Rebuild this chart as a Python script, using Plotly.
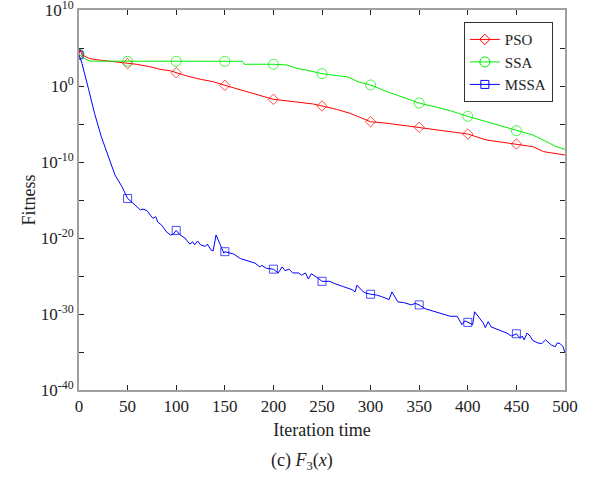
import plotly.graph_objects as go

# Iteration positions and log10(fitness)
pso_x = [0, 1, 3, 11, 22, 32, 39, 50, 59, 73, 83, 94, 100, 111, 125, 138, 150, 166, 186, 200,
         221, 241, 250, 265, 279, 289, 300, 317, 337, 350, 371, 389, 400, 419, 437, 450, 467, 478, 488, 500]
pso_log = [4.2, 4.9, 4.1, 3.6, 3.4, 3.25, 3.2, 2.95, 2.86, 2.54, 2.2, 2.0, 1.75, 1.32, 0.88, 0.57, 0.09, -0.53, -1.3, -1.75,
           -2.06, -2.37, -2.63, -3.07, -3.6, -4.15, -4.7, -4.9, -5.26, -5.43, -5.88, -6.14, -6.32, -7.1, -7.46, -7.63, -7.98, -8.64, -8.86, -9.08]

ssa_x = [0, 6, 11, 50, 100, 150, 168, 170, 200, 214, 224, 234, 250, 268, 276, 287, 300, 317, 330, 350,
         368, 382, 400, 419, 437, 450, 467, 481, 491, 500]
ssa_log = [4.17, 3.6, 3.27, 3.25, 3.25, 3.25, 3.25, 2.86, 2.86, 2.76, 2.33, 2.1, 1.62, 1.32, 1.22, 0.57, 0.13, -0.75, -1.32, -2.24,
           -2.8, -3.25, -3.99, -4.7, -5.35, -5.88, -6.45, -7.33, -7.98, -8.33]

mssa_x = [0, 3, 10, 16, 23, 30, 37, 44, 50, 58, 63, 66, 70, 74, 76, 79, 81, 85, 90, 94,
          97, 100, 104, 109, 114, 117, 119, 122, 125, 130, 132, 136, 138, 141, 145, 149, 150, 159, 166, 176,
          181, 186, 188, 193, 200, 205, 209, 212, 216, 220, 226, 229, 233, 236, 239, 245, 250, 258, 263, 272,
          281, 284, 286, 291, 294, 300, 306, 311, 316, 319, 322, 325, 328, 334, 339, 342, 346, 350, 356, 361,
          368, 375, 382, 389, 390, 394, 397, 400, 405, 407, 411, 416, 418, 421, 424, 430, 435, 440, 445, 450,
          454, 456, 458, 461, 464, 467, 472, 476, 480, 483, 486, 490, 492, 495, 498, 500]
mssa_log = [4.1, 3.0, -0.5, -3.6, -6.7, -9.3, -11.7, -13.2, -14.8, -15.7, -16.3, -16.2, -16.4, -17.1, -17.4, -17.2, -17.9, -18.3, -19.2, -19.6,
            -19.5, -19.0, -19.6, -20.0, -20.8, -20.5, -20.9, -20.4, -20.9, -21.1, -20.8, -21.6, -21.7, -19.6, -20.9, -22.0, -21.8, -22.1, -22.7, -23.1,
            -23.3, -23.8, -23.6, -24.0, -24.1, -24.6, -23.8, -24.3, -24.1, -24.6, -24.6, -24.9, -24.6, -25.4, -24.7, -25.2, -25.7, -25.7, -26.0, -26.4,
            -26.8, -27.1, -26.2, -26.9, -27.2, -27.4, -27.5, -27.7, -27.9, -28.1, -27.1, -27.8, -28.4, -28.5, -28.7, -28.8, -28.6, -28.8, -29.3, -29.5,
            -29.7, -30.0, -30.3, -30.3, -30.5, -31.4, -30.9, -31.1, -31.4, -29.7, -30.3, -31.2, -31.8, -31.0, -31.7, -32.0, -32.3, -32.5, -32.9, -32.6,
            -33.2, -32.9, -33.4, -32.5, -32.9, -33.5, -33.8, -33.9, -33.4, -33.7, -34.1, -34.3, -33.8, -33.9, -34.3, -35.1]

marker_every = 50
y_exponents = list(range(-40, 11, 5))

serif = "Liberation Serif"

fig = go.Figure()
series = [
    ("PSO", pso_x, pso_log, "#ff0000", "diamond-open", 8),
    ("SSA", ssa_x, ssa_log, "#00ee00", "circle-open", 10),
    ("MSSA", mssa_x, mssa_log, "#0000ff", "square-open", 8),
]
for name, xs, ls, col, sym, ms in series:
    fig.add_trace(go.Scatter(
        x=xs, y=[10 ** v for v in ls], name=name, mode="lines+markers", showlegend=False,
        line=dict(color=col, width=1),
        marker=dict(symbol=sym, size=[ms if (x % marker_every == 0 and x < 500) else 0 for x in xs],
                    color=col, line=dict(color=col, width=1)),
    ))
# legend entries (no data drawn)
for name, xs, ls, col, sym, ms in series:
    fig.add_trace(go.Scatter(
        x=[None], y=[None], name=name, mode="lines+markers",
        line=dict(color=col, width=1),
        marker=dict(symbol=sym, size=ms, color=col, line=dict(color=col, width=1)),
    ))

ticktext = [("10<sup>%d</sup>" % e) if e % 10 == 0 else "" for e in y_exponents]

axis_common = dict(
    showline=True, linecolor="#a0a0a0", linewidth=2, mirror="allticks",
    ticks="inside", ticklen=5, tickcolor="#222222", tickwidth=1,
    showgrid=False, zeroline=False, automargin=False, ticklabeloverflow="allow",
    tickfont=dict(family=serif, size=17, color="#222222"),
)

fig.update_layout(
    width=596, height=477,
    margin=dict(l=79, r=31, t=10, b=87),
    paper_bgcolor="white", plot_bgcolor="white",
    font=dict(family=serif, color="#222222"),
    xaxis=dict(range=[0, 500], tickvals=list(range(0, 501, 50)),
               title=dict(text="Iteration time", font=dict(family=serif, size=18), standoff=8),
               **axis_common),
    yaxis=dict(type="log", range=[-40, 10], tickvals=[10.0 ** e for e in y_exponents], ticktext=ticktext,
               title=dict(text="Fitness", font=dict(family=serif, size=18), standoff=0),
               **axis_common),
    legend=dict(x=0.975, y=0.968, xanchor="right", yanchor="top",
                bgcolor="white", bordercolor="#333333", borderwidth=1,
                font=dict(family=serif, size=15, color="#222222"),
                tracegroupgap=0),
    showlegend=True,
)

fig.add_annotation(text="(c) <i>F</i><sub>3</sub>(<i>x</i>)", xref="paper", yref="paper",
                   x=0.459, y=-0.187, xanchor="center", yanchor="middle", showarrow=False,
                   font=dict(family=serif, size=18, color="#222222"))

fig.write_html("out.html", config={"displayModeBar": False},
               post_script="document.body.style.margin='0px';")
